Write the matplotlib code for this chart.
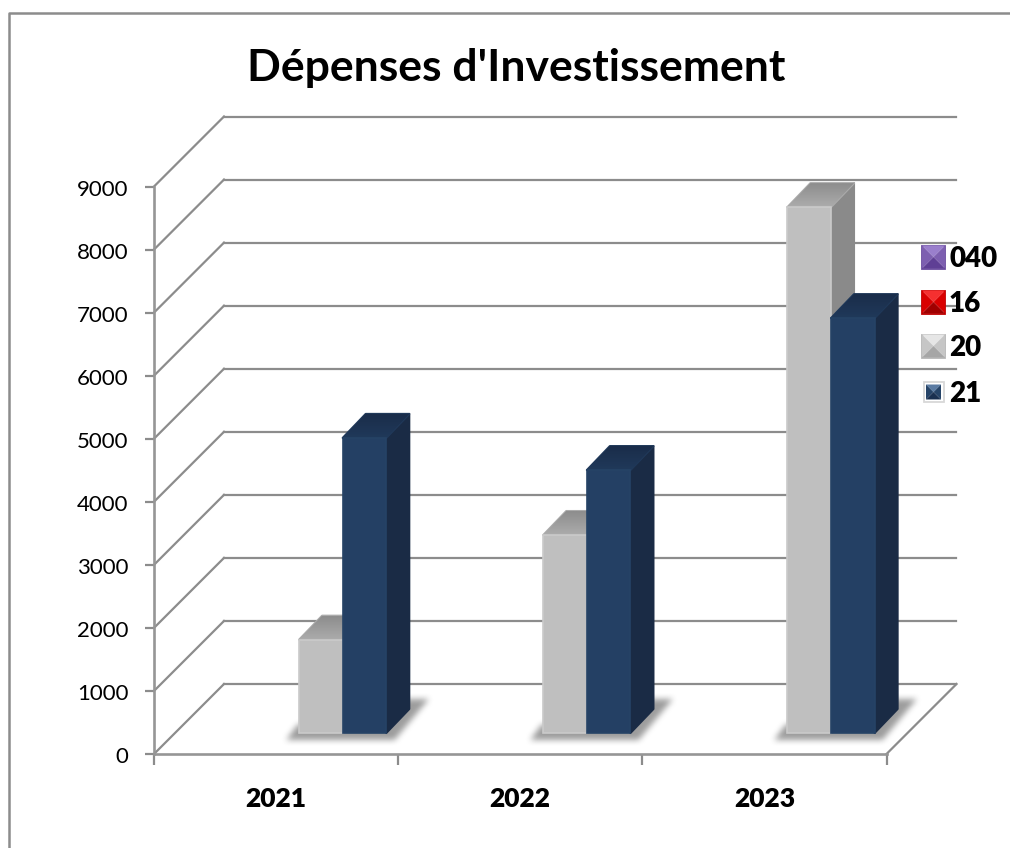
import matplotlib
matplotlib.use("Agg")
import numpy as np
import matplotlib.pyplot as plt
from matplotlib.patches import Polygon
from matplotlib.path import Path
from matplotlib.transforms import ScaledTranslation

plt.rcParams['font.family'] = ['Lato', 'DejaVu Sans']

years = ['2021', '2022', '2023']
series = ['040', '16', '20', '21']
values_040 = [0, 0, 0]
values_16 = [0, 0, 0]
values_20 = [1480, 3140, 8340]
values_21 = [4680, 4170, 6580]
ticks = [0, 1000, 2000, 3000, 4000, 5000, 6000, 7000, 8000, 9000]

front = {'20': '#bfbfbf', '21': '#244064'}
side = {'20': '#8a8a8a', '21': '#1a2b45'}
top = {'20': ('#8e8e8e', '#ababab'), '21': ('#1a2d4a', '#20395a')}
edge = {'20': '#cacaca', '21': '#264366'}
grid_c = '#8c8c8c'

W, H = 1010, 848
fig = plt.figure(figsize=(W / 100, H / 100), dpi=100)
ax = fig.add_axes([154 / W, (H - 754) / H, 732.5 / W, 567.5 / H])
ax.set_xlim(0, 3)
ax.set_ylim(0, 9000)
ax.set_autoscale_on(False)
ax.patch.set_visible(False)

# pixel sizes expressed in data units
px_x = 3 / 732.5
px_y = 9000 / 567.5
wall_dx, wall_dy = 70 * px_x, 70 * px_y
bar_dx, bar_dy = 23 * px_x, 21 * px_y
depth_dx, depth_dy = 23 * px_x, 24 * px_y
bar_w = 43.6 * px_x


def soft_shadow(points, blur=7):
    # rasterise the outline on a pixel grid and box-blur it into an alpha mask
    xs = [p[0] for p in points]
    ys = [p[1] for p in points]
    pad = 2 * blur
    x0, x1 = min(xs) - pad * px_x, max(xs) + pad * px_x
    y0, y1 = min(ys) - pad * px_y, max(ys) + pad * px_y
    gx = np.linspace(x0, x1, int((x1 - x0) / px_x))
    gy = np.linspace(y0, y1, int((y1 - y0) / px_y))
    xx, yy = np.meshgrid(gx, gy)
    inside = Path(points).contains_points(np.c_[xx.ravel(), yy.ravel()]).reshape(xx.shape)
    mask = inside.astype(float)
    kernel = np.ones(blur) / blur
    for _ in range(2):
        mask = np.apply_along_axis(lambda r: np.convolve(r, kernel, mode='same'), 0, mask)
        mask = np.apply_along_axis(lambda r: np.convolve(r, kernel, mode='same'), 1, mask)
    rgba = np.zeros(mask.shape + (4,))
    rgba[..., :3] = 0.55
    rgba[..., 3] = mask * 0.85
    im = ax.imshow(rgba, extent=(x0, x1, y0, y1), origin='lower', aspect='auto', zorder=2)
    im.set_clip_box(fig.bbox)


def gradient_face(points, colours, z):
    # front-to-back shading of a bar's top face
    poly = Polygon(points, closed=True, facecolor=colours[1], edgecolor=colours[1], lw=1.5,
                   joinstyle='round', clip_on=False, zorder=z)
    ax.add_patch(poly)
    xs = [p[0] for p in points]
    ys = [p[1] for p in points]
    c0 = np.array(matplotlib.colors.to_rgb(colours[0]))
    c1 = np.array(matplotlib.colors.to_rgb(colours[1]))
    ramp = np.linspace(0, 1, 16)[:, None, None]
    img = c1 * (1 - ramp) + c0 * ramp
    im = ax.imshow(img, extent=(min(xs), max(xs), min(ys), max(ys)), origin='lower',
                   aspect='auto', zorder=z + 0.1)
    im.set_clip_box(fig.bbox)
    im.set_clip_path(poly)


# back wall, side wall and floor
for t in ticks:
    ax.plot([0, wall_dx], [t, t + wall_dy], color=grid_c, lw=1.6, clip_on=False, zorder=1)
    ax.plot([wall_dx, 3 + wall_dx], [t + wall_dy, t + wall_dy], color=grid_c, lw=1.6,
            clip_on=False, zorder=1)
ax.plot([3, 3 + wall_dx], [0, wall_dy], color=grid_c, lw=1.6, clip_on=False, zorder=1)

all_values = [values_040, values_16, values_20, values_21]

for i, year in enumerate(years):
    left = i + 0.5 + bar_dx
    right = left + 2 * bar_w
    soft_shadow([(left - 13 * px_x, bar_dy - 7 * px_y), (right + 8 * px_x, bar_dy - 7 * px_y),
                 (right + 42 * px_x, bar_dy + 34 * px_y), (right + 10 * px_x, bar_dy + 34 * px_y),
                 (left - 2 * px_x, bar_dy + 8 * px_y)])

for j, name in enumerate(series):
    for i, year in enumerate(years):
        v = all_values[j][i]
        if v == 0:
            continue
        left = i + 0.5 + bar_dx + (j - 2) * bar_w
        right = left + bar_w
        base = bar_dy
        tp = base + v
        z = 3 + j
        ax.add_patch(Polygon([(right, base), (right + depth_dx, base + depth_dy),
                              (right + depth_dx, tp + depth_dy), (right, tp)], closed=True,
                             facecolor=side[name], edgecolor=side[name], lw=1.5,
                             joinstyle='round', clip_on=False, zorder=z))
        gradient_face([(left, tp), (right, tp), (right + depth_dx, tp + depth_dy),
                       (left + depth_dx, tp + depth_dy)], top[name], z)
        ax.bar(left, v, bar_w, bottom=base, align='edge', color=front[name], edgecolor=edge[name],
               lw=1.2, clip_on=False, zorder=z + 0.5)

for s in ['top', 'right']:
    ax.spines[s].set_visible(False)
for s in ['left', 'bottom']:
    ax.spines[s].set_color('#969696')
    ax.spines[s].set_linewidth(1.9)
ax.set_xticks([0, 1, 2, 3])
ax.set_xticklabels([])
ax.set_xticks([0.5, 1.5, 2.5], labels=years, minor=True)
ax.set_yticks(ticks)
ax.tick_params(axis='x', which='major', length=8, width=1.6, color=grid_c)
ax.tick_params(axis='x', which='minor', length=0, pad=24, labelsize=19, labelcolor='black')
for lab in ax.get_xticklabels(minor=True):
    lab.set_fontweight('heavy')
ax.tick_params(axis='y', length=6.5, width=1.6, color=grid_c, labelsize=16, pad=12)
shift = ScaledTranslation(0, -1 / 100, fig.dpi_scale_trans)
for lab in ax.get_yticklabels():
    lab.set_transform(lab.get_transform() + shift)

# page layer for frame, title and legend
page = fig.add_axes([0, 0, 1, 1], zorder=5)
page.set_xlim(0, W)
page.set_ylim(H, 0)
page.axis('off')
page.plot([9, 9, W], [H, 13, 13], color=grid_c, lw=1.8)
page.text(516, 68, "Dépenses d'Investissement", fontsize=32, fontweight='bold',
          ha='center', va='center')

legend_y = [257, 302, 346, 392]
legend_c = [('#7d5fb0', '#9a7fcc', '#5f3f95', '#6b4c9f'),
            ('#d90000', '#f53030', '#a00000', '#c00000'),
            ('#c6c6c6', '#e6e6e6', '#a6a6a6', '#b6b6b6'),
            ('#264468', '#5a7ba3', '#1a3050', '#d8d8d8')]
legend_s = [11.5, 11.5, 11.5, 7.5]
legend_f = [11.5, 11.5, 11.5, 10]
for name, y, c, s, f in zip(series, legend_y, legend_c, legend_s, legend_f):
    x = 933.5
    page.add_patch(plt.Rectangle((x - f, y - f), 2 * f, 2 * f, facecolor='white',
                                 edgecolor=c[3], lw=1.3))
    page.add_patch(Polygon([(x - s, y - s), (x + s, y - s), (x, y)], facecolor=c[1], lw=0))
    page.add_patch(Polygon([(x - s, y - s), (x, y), (x - s, y + s)], facecolor=c[0], lw=0))
    page.add_patch(Polygon([(x + s, y - s), (x, y), (x + s, y + s)], facecolor=c[0], lw=0))
    page.add_patch(Polygon([(x - s, y + s), (x + s, y + s), (x, y)], facecolor=c[2], lw=0))
    page.text(949, y + 2, name, fontsize=20, fontweight='heavy', ha='left', va='center')

fig.savefig('out.png', dpi=100)
